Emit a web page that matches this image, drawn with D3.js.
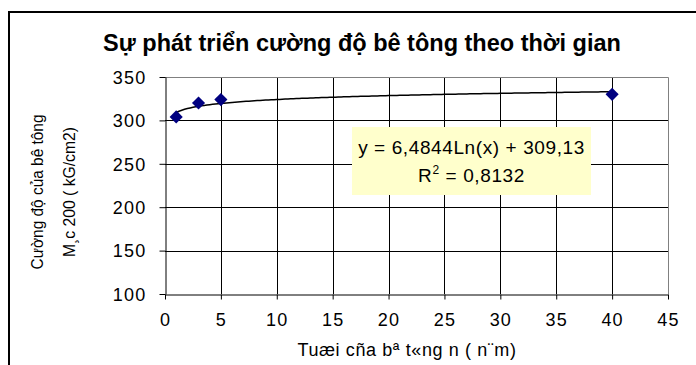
<!DOCTYPE html>
<html>
<head>
<meta charset="utf-8">
<script src="https://cdn.jsdelivr.net/npm/d3@7"></script>
<style>
  body { margin: 0; background: #fff; }
  svg { display: block; }
</style>
</head>
<body>
<div id="chart"></div>
<script>
// Measured points: age of concrete (years) and strength
var ages = [1, 3, 5, 40];
var strengths = [304, 320, 324, 330];

// Log trendline coefficients as printed on the chart
var trendA = 6.4844;
var trendB = 309.13;
var trendLabel = "y = 6,4844Ln(x) + 309,13";
var r2Label = "0,8132";

var xTicks = [0, 5, 10, 15, 20, 25, 30, 35, 40, 45];
var yTicks = [100, 150, 200, 250, 300, 350];

var titleText = "Sự phát triển cường độ bê tông theo thời gian";
var xTitle = "Tuæi cña bª t«ng n ( n¨m)";
var yTitle = ["Cường độ của bê tông", "M¸c 200 ( kG/cm2)"];

var config = {
    width: 696,
    height: 365,
    plot: { left: 165, right: 668, top: 77, bottom: 294 },
    font: "'Liberation Sans', Arial, sans-serif",
    colors: {
        grid: '#000000',
        border: '#808080',
        marker: '#000080',
        trend: '#000000',
        box: '#FFFFCC'
    }
};

var svg = d3.select('#chart').append('svg')
    .attr('width', config.width)
    .attr('height', config.height);

// chart frame (only the top and left edges are visible)
svg.append('path')
    .attr('d', 'M9,' + config.height + 'V12H' + config.width)
    .attr('fill', 'none')
    .attr('stroke', '#000')
    .attr('stroke-width', 2);

var x = d3.scaleLinear().domain([0, 45]).range([config.plot.left, config.plot.right]);
var y = d3.scaleLinear().domain([100, 350]).range([config.plot.bottom, config.plot.top]);

// gridlines
svg.append('g').selectAll('line.vg')
    .data(xTicks.slice(1, -1)).enter().append('line')
    .attr('x1', function (d) { return Math.round(x(d)) + 0.5; })
    .attr('x2', function (d) { return Math.round(x(d)) + 0.5; })
    .attr('y1', config.plot.top).attr('y2', config.plot.bottom)
    .attr('stroke', config.colors.grid);

svg.append('g').selectAll('line.hg')
    .data(yTicks.slice(1, -1)).enter().append('line')
    .attr('x1', config.plot.left).attr('x2', config.plot.right)
    .attr('y1', function (d) { return Math.round(y(d)) + 0.5; })
    .attr('y2', function (d) { return Math.round(y(d)) + 0.5; })
    .attr('stroke', config.colors.grid);

// plot area border (top / right in gray)
svg.append('path')
    .attr('d', 'M' + config.plot.left + ',' + (config.plot.top + 0.5) + 'H' + (config.plot.right + 0.5) + 'V' + config.plot.bottom)
    .attr('fill', 'none')
    .attr('stroke', config.colors.border);

// axes
var xAxis = svg.append('g')
    .attr('transform', 'translate(0,' + (config.plot.bottom + 0.5) + ')')
    .call(d3.axisBottom(x).tickValues(xTicks).tickSize(5).tickPadding(14).tickSizeOuter(0));
var yAxis = svg.append('g')
    .attr('transform', 'translate(' + (config.plot.left + 0.5) + ',0)')
    .call(d3.axisLeft(y).tickValues(yTicks).tickSize(6).tickPadding(13).tickSizeOuter(0));

[xAxis, yAxis].forEach(function (a) {
    a.select('.domain').attr('stroke', '#000');
    a.selectAll('.tick line').attr('stroke', '#000');
    a.selectAll('.tick text')
        .attr('font-family', config.font)
        .attr('font-size', 18)
        .attr('letter-spacing', 1.2)
        .attr('fill', '#000');
});
yAxis.selectAll('.tick text').attr('dy', '0.35em');

// trendline, sampled along the log curve from the printed coefficients
var trendXs = d3.range(1, 40.01, 0.25);
var line = d3.line()
    .x(function (d) { return x(d); })
    .y(function (d) { return y(trendA * Math.log(d) + trendB); });
svg.append('path')
    .datum(trendXs)
    .attr('d', line)
    .attr('fill', 'none')
    .attr('stroke', config.colors.trend)
    .attr('stroke-width', 1.5);

// markers
svg.append('g').selectAll('path.pt')
    .data(ages).enter().append('path')
    .attr('d', d3.symbol().type(d3.symbolDiamond2).size(110))
    .attr('transform', function (d, i) { return 'translate(' + x(d) + ',' + y(strengths[i]) + ')'; })
    .attr('fill', config.colors.marker);

// equation box
var box = svg.append('g');
box.append('rect')
    .attr('x', 352).attr('y', 127).attr('width', 239).attr('height', 68)
    .attr('fill', config.colors.box);
box.append('text')
    .attr('x', 471.5).attr('y', 154)
    .attr('text-anchor', 'middle')
    .attr('font-family', config.font)
    .attr('font-size', 19)
    .attr('letter-spacing', 0.6)
    .text(trendLabel);
var r2 = box.append('text')
    .attr('x', 471.5).attr('y', 182)
    .attr('text-anchor', 'middle')
    .attr('font-family', config.font)
    .attr('font-size', 19)
    .attr('letter-spacing', 0.6);
r2.append('tspan').text('R');
r2.append('tspan').attr('dy', -8).attr('font-size', 12).text('2');
r2.append('tspan').attr('dy', 8).text(' = ' + r2Label);

// title
svg.append('text')
    .attr('x', 362).attr('y', 51)
    .attr('text-anchor', 'middle')
    .attr('font-family', config.font)
    .attr('font-weight', 'bold')
    .attr('font-size', 23.5)
    .text(titleText);

// x axis title
svg.append('text')
    .attr('x', 407).attr('y', 356)
    .attr('text-anchor', 'middle')
    .attr('font-family', config.font)
    .attr('font-size', 18)
    .attr('letter-spacing', 0.6)
    .text(xTitle);

// y axis title, two rotated lines in a narrow face
var yLens = [155, 130];
svg.append('g').selectAll('text.yt')
    .data(yTitle).enter().append('text')
    .attr('transform', function (d, i) { return 'translate(' + (43 + i * 32) + ',192) rotate(-90)'; })
    .attr('text-anchor', 'middle')
    .attr('font-family', config.font)
    .attr('font-size', 17)
    .attr('textLength', function (d, i) { return yLens[i]; })
    .attr('lengthAdjust', 'spacingAndGlyphs')
    .text(function (d) { return d; });
</script>
</body>
</html>
